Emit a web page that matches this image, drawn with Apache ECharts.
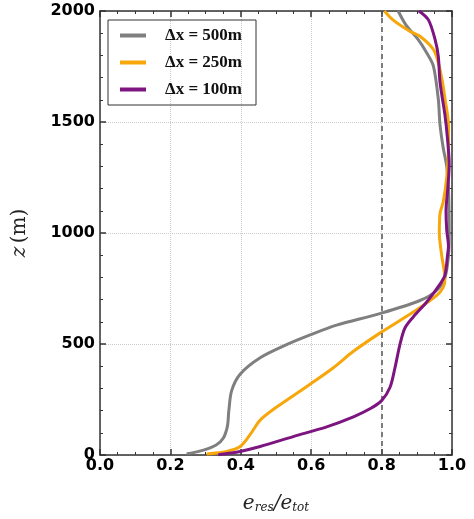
<!DOCTYPE html>
<html>
<head>
<meta charset="utf-8">
<script src="https://cdn.jsdelivr.net/npm/echarts@6/dist/echarts.min.js"></script>
<style>html,body{margin:0;padding:0;background:#fff}#c{width:474px;height:519px}</style>
</head>
<body>
<div id="c"></div>
<script>
var seriesNames = ['\u0394x = 500m', '\u0394x = 250m', '\u0394x = 100m'];
var seriesColors = ['#7f7f7f', '#f7a70a', '#7d1581'];

var x500 = [0.246,0.294,0.330,0.350,0.362,0.366,0.374,0.398,0.455,0.530,0.597,0.672,0.795,0.909,0.956,0.980,0.990,0.992,0.990,0.985,0.975,0.966,0.961,0.947,0.928,0.904,0.870,0.847];
var z500 = [5,22,45,75,130,200,290,364,438,497,541,585,637,696,741,800,900,1000,1200,1300,1384,1487,1605,1753,1812,1871,1935,2000];

var x250 = [0.303,0.360,0.398,0.430,0.455,0.502,0.597,0.663,0.720,0.795,0.890,0.956,0.975,0.980,0.971,0.964,0.966,0.975,0.985,0.990,0.990,0.980,0.973,0.961,0.947,0.909,0.881,0.833,0.808];
var z250 = [5,16,38,100,157,216,319,393,467,549,644,718,755,794,896,999,1088,1140,1250,1400,1487,1605,1679,1768,1827,1886,1908,1959,2000];

var x100 = [0.336,0.398,0.455,0.549,0.644,0.720,0.767,0.800,0.824,0.838,0.852,0.866,0.890,0.928,0.966,0.980,0.987,0.990,0.985,0.983,0.988,0.992,0.987,0.980,0.966,0.961,0.952,0.933,0.906];
var z100 = [1,16,38,83,127,172,208,245,305,393,497,571,622,689,770,810,896,940,1014,1100,1200,1310,1428,1531,1679,1797,1871,1960,2000];

var xTickLabels = ['0.0','0.2','0.4','0.6','0.8','1.0'];
var yTickLabels = ['0','500','1000','1500','2000'];
var refLineX = 0.8;

function pairs(xs, zs){ return xs.map(function(v,i){ return [v, zs[i]]; }); }
var seriesX = [x500, x250, x100];
var seriesZ = [z500, z250, z100];

var chart = echarts.init(document.getElementById('c'));
var labelFont = {fontFamily:'DejaVu Sans', fontWeight:'bold', fontSize:16, color:'#000'};
var series = seriesNames.map(function(n,i){
  var s = {
    name: n, type:'line', data: pairs(seriesX[i], seriesZ[i]),
    smooth: 0.3, showSymbol:false, symbol:'none',
    lineStyle:{color:seriesColors[i], width:3}, itemStyle:{color:seriesColors[i]},
    z: 3 + i
  };
  if (i === 0) {
    s.markLine = {silent:true, symbol:'none', label:{show:false},
      lineStyle:{color:'#555', type:[5,4], width:1.5},
      data:[{xAxis: refLineX}]};
  }
  return s;
});

function axisLine(){ return {show:true, onZero:false, lineStyle:{color:'#333', width:1.5}}; }

chart.setOption({
  backgroundColor:'#fff',
  animation:false,
  grid:{left:100, right:22, top:11, bottom:57},
  legend:{
    orient:'vertical', left:108, top:20,
    borderColor:'#333', borderWidth:1, padding:[7,14,7,12],
    itemWidth:26, itemHeight:4, itemGap:10, icon:'rect',
    data: seriesNames,
    textStyle:{fontFamily:'Liberation Serif', fontWeight:'bold', fontSize:17, color:'#111', padding:[0,0,0,14]}
  },
  xAxis:[{
    type:'value', min:0, max:1, interval:0.2, position:'bottom',
    axisLine:axisLine(),
    axisTick:{show:true, inside:true, length:6, lineStyle:{color:'#333', width:1.5}},
    minorTick:{show:true, splitNumber:4, length:3, lineStyle:{color:'#333'}},
    splitLine:{show:true, lineStyle:{color:'#ccc', type:'dotted', width:1}},
    axisLabel:Object.assign({margin:3, formatter:function(v){ return xTickLabels[Math.round(v/0.2)]; }}, labelFont),
    name:'{e|e}{s|res}{e|/e}{s|tot}', nameLocation:'middle', nameGap:38,
    nameTextStyle:{rich:{
      e:{fontFamily:'DejaVu Serif', fontStyle:'italic', fontSize:20, color:'#222'},
      s:{fontFamily:'DejaVu Serif', fontStyle:'italic', fontSize:12, color:'#222', padding:[9,0,0,0]}
    }}
  },{
    type:'value', min:0, max:1, interval:0.2, position:'top',
    axisLine:axisLine(),
    axisTick:{show:true, inside:true, length:6, lineStyle:{color:'#333', width:1.5}},
    minorTick:{show:true, splitNumber:4, length:3, lineStyle:{color:'#333'}},
    splitLine:{show:false}, axisLabel:{show:false}
  }],
  yAxis:[{
    type:'value', min:0, max:2000, interval:500, position:'left',
    axisLine:axisLine(),
    axisTick:{show:true, inside:true, length:6, lineStyle:{color:'#333', width:1.5}},
    minorTick:{show:true, splitNumber:5, length:3, lineStyle:{color:'#333'}},
    splitLine:{show:true, lineStyle:{color:'#ccc', type:'dotted', width:1}},
    axisLabel:Object.assign({margin:5, formatter:function(v){ return yTickLabels[Math.round(v/500)]; }}, labelFont),
    name:'{i|z} {n|(m)}', nameLocation:'middle', nameGap:70, nameRotate:90,
    nameTextStyle:{rich:{
      i:{fontFamily:'DejaVu Serif', fontStyle:'italic', fontSize:20, color:'#222'},
      n:{fontFamily:'DejaVu Serif', fontSize:20, color:'#222'}
    }}
  },{
    type:'value', min:0, max:2000, interval:500, position:'right',
    axisLine:axisLine(),
    axisTick:{show:true, inside:true, length:6, lineStyle:{color:'#333', width:1.5}},
    minorTick:{show:true, splitNumber:5, length:3, lineStyle:{color:'#333'}},
    splitLine:{show:false}, axisLabel:{show:false}
  }],
  series: series
});
</script>
</body>
</html>
